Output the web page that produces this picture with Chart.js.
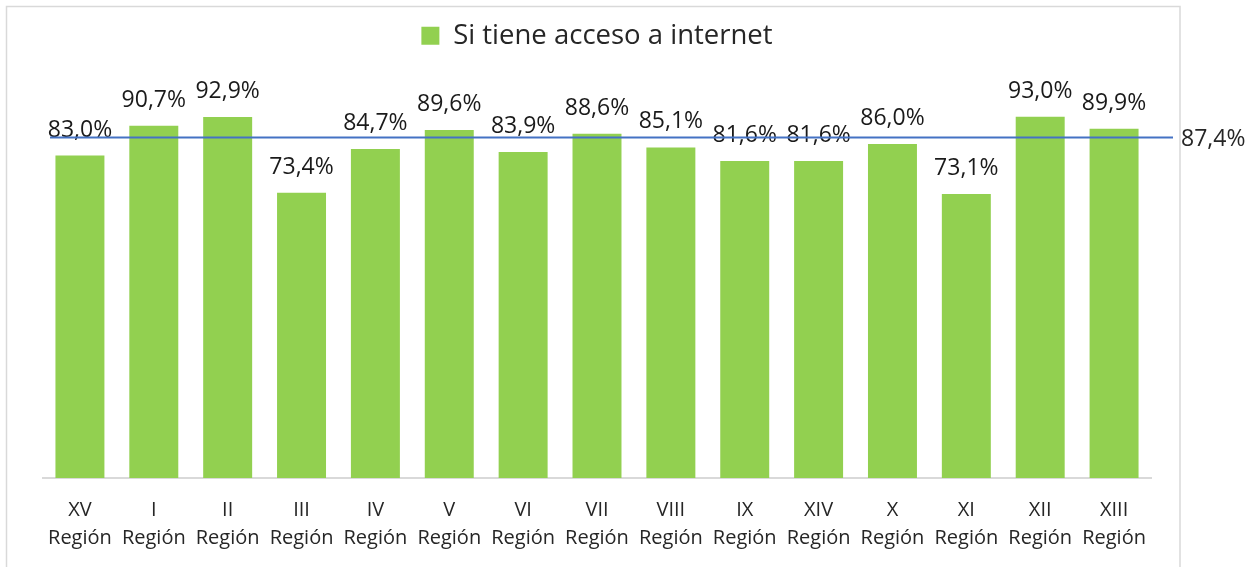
<!DOCTYPE html>
<html>
<head>
<meta charset="utf-8">
<script src="https://cdn.jsdelivr.net/npm/chart.js@4/dist/chart.umd.min.js"></script>
<style>
  html, body { margin: 0; padding: 0; background: #ffffff; }
  #wrap { width: 1258px; height: 567px; }
</style>
</head>
<body>
<div id="wrap"><canvas id="c" width="1258" height="567"></canvas></div>
<script>
const regionNumbers = ["XV", "I", "II", "III", "IV", "V", "VI", "VII", "VIII", "IX", "XIV", "X", "XI", "XII", "XIII"];
const regionWord = "Región";
const accessValues = [83.0, 90.7, 92.9, 73.4, 84.7, 89.6, 83.9, 88.6, 85.1, 81.6, 81.6, 86.0, 73.1, 93.0, 89.9];
const nationalAverage = 87.4;
const seriesName = "Si tiene acceso a internet";

const FONT = "'Open Sans', 'Noto Sans', sans-serif";
const fmt = v => v.toFixed(1).replace('.', ',') + '%';

const frame = {
  id: 'frame',
  beforeDraw(chart) {
    const ctx = chart.ctx;
    ctx.save();
    ctx.strokeStyle = '#d9d9d9';
    ctx.lineWidth = 1.5;
    ctx.strokeRect(6.5, 6.5, 1173.5, 600);
    ctx.restore();
  }
};

const legendGap = {
  id: 'legendGap',
  beforeInit(chart) {
    const origFit = chart.legend.fit;
    chart.legend.fit = function () {
      origFit.bind(chart.legend)();
      this.height += 30;
    };
  }
};

const extras = {
  id: 'extras',
  afterDatasetsDraw(chart) {
    const ctx = chart.ctx;
    const meta = chart.getDatasetMeta(0);
    const yS = chart.scales.y;
    const area = chart.chartArea;
    ctx.save();
    // value labels
    ctx.font = "23px " + FONT;
    ctx.fillStyle = '#1a1a1a';
    ctx.textAlign = 'center';
    ctx.textBaseline = 'alphabetic';
    meta.data.forEach((bar, i) => {
      ctx.fillText(fmt(accessValues[i]), bar.x, bar.y - 19);
    });
    // average line
    const ya = yS.getPixelForValue(nationalAverage) - 1;
    ctx.strokeStyle = '#4472c4';
    ctx.lineWidth = 2;
    ctx.beginPath();
    ctx.moveTo(area.left + 7, ya);
    ctx.lineTo(area.right + 22, ya);
    ctx.stroke();
    ctx.textAlign = 'left';
    ctx.textBaseline = 'middle';
    ctx.fillStyle = '#262626';
    ctx.fillText(fmt(nationalAverage), area.right + 30, ya + 2);
    ctx.restore();
  }
};

new Chart(document.getElementById('c'), {
  type: 'bar',
  data: {
    labels: regionNumbers.map(r => [r, regionWord]),
    datasets: [{
      label: seriesName,
      data: accessValues,
      backgroundColor: '#92d050',
      borderWidth: 0,
      barPercentage: 0.663,
      categoryPercentage: 1.0
    }]
  },
  options: {
    responsive: false,
    animation: false,
    devicePixelRatio: 1,
    layout: { padding: { top: 12, left: 43, right: 107, bottom: 0 } },
    plugins: {
      legend: {
        display: true,
        position: 'top',
        labels: {
          boxWidth: 18,
          boxHeight: 18,
          padding: 10,
          color: '#262626',
          font: { family: FONT, size: 27.5 }
        }
      },
      tooltip: { enabled: false }
    },
    scales: {
      x: {
        grid: { display: false, drawTicks: false },
        border: { display: true, color: '#d9d9d9', width: 2 },
        ticks: {
          padding: 18,
          color: '#262626',
          maxRotation: 0,
          autoSkip: false,
          font: { family: FONT, size: 20, lineHeight: 1.4 }
        },
        afterFit(scale) { scale.height = 89; }
      },
      y: {
        display: false,
        min: 0,
        max: 100
      }
    }
  },
  plugins: [frame, legendGap, extras]
});
</script>
</body>
</html>
